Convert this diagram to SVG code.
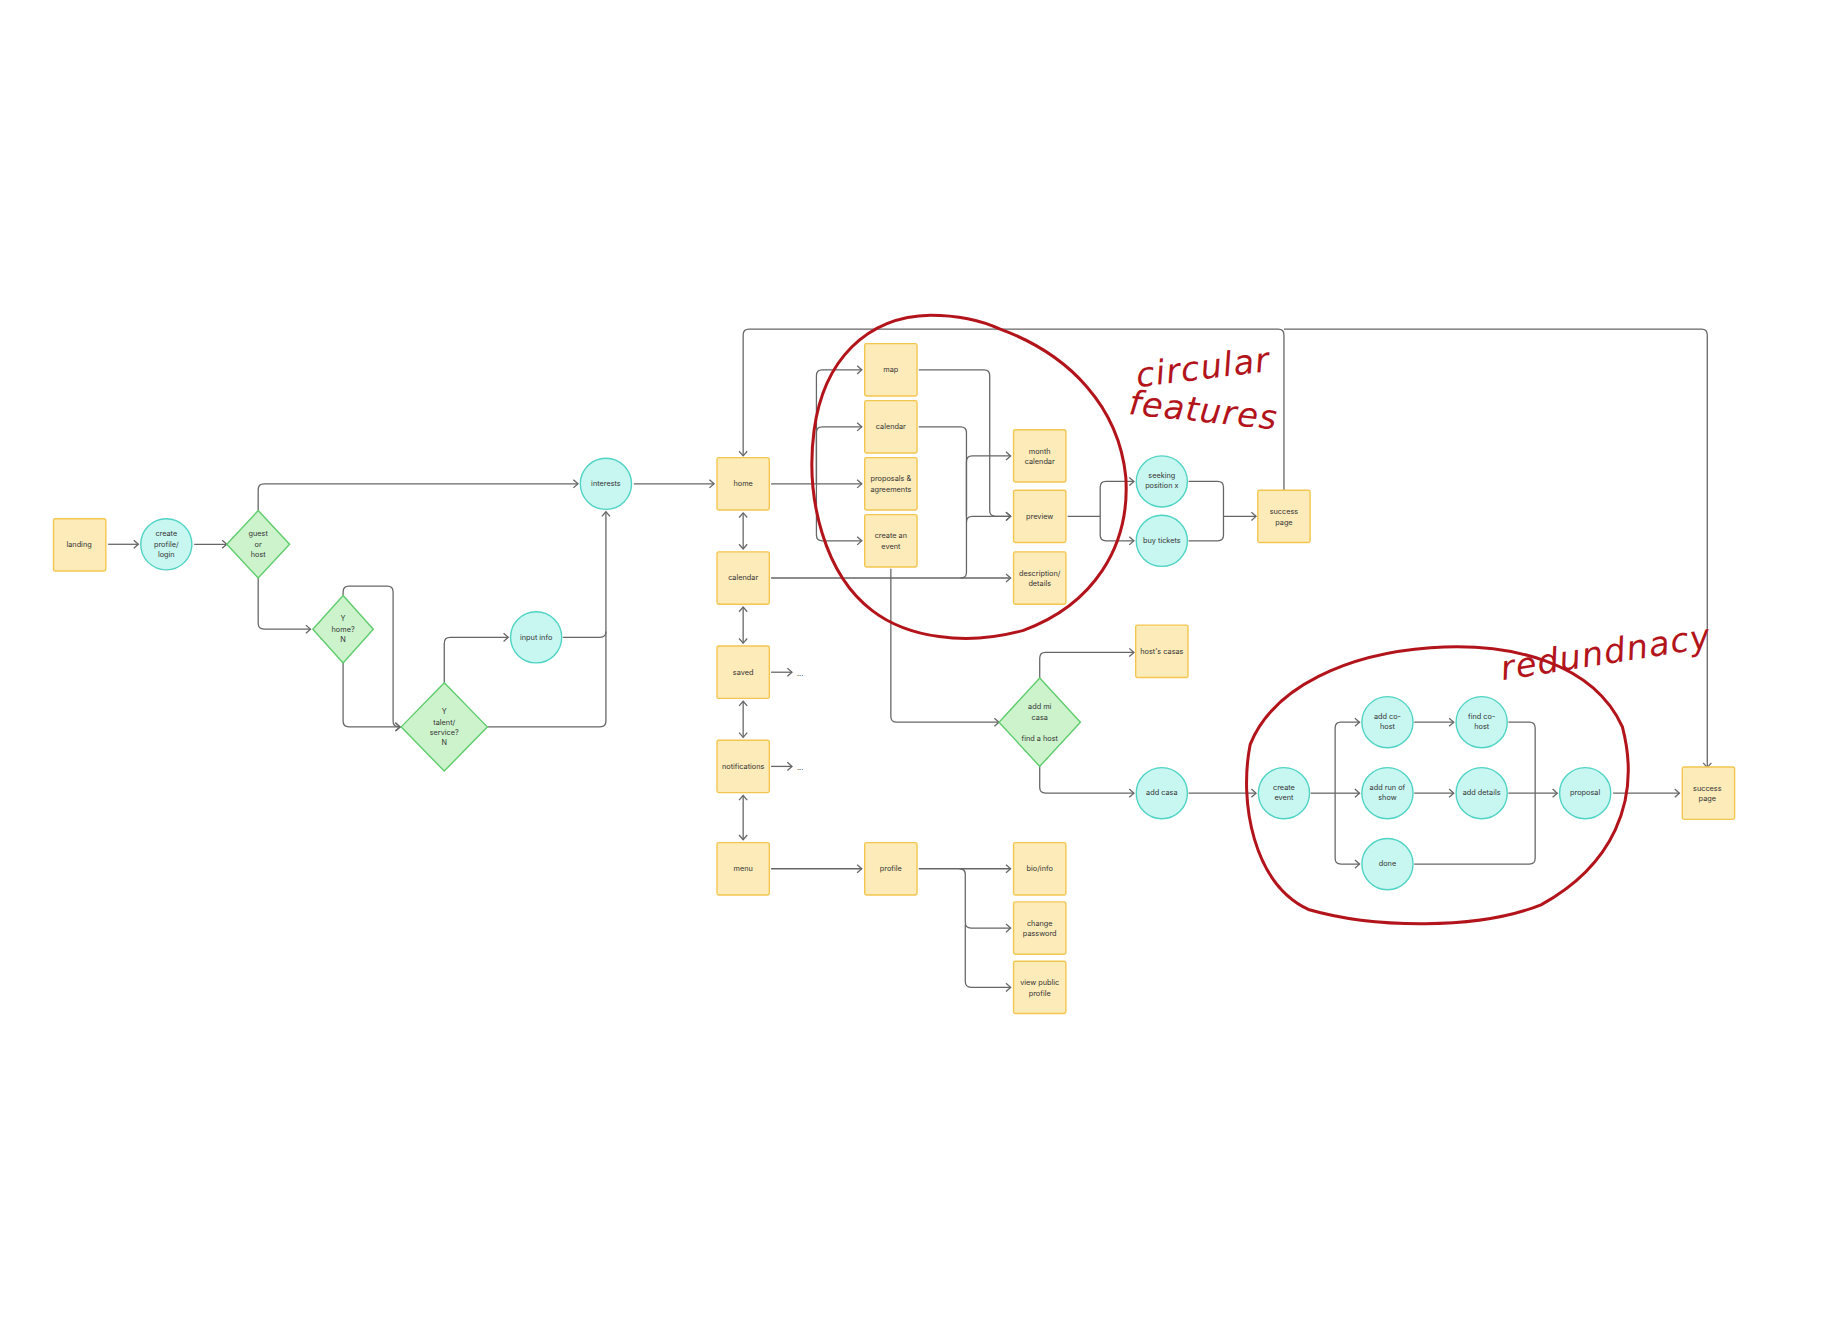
<svg xmlns="http://www.w3.org/2000/svg" width="1824" height="1339" viewBox="0 0 1824 1339">
<style>
.r{fill:#fdebb9;stroke:#f3c650;stroke-width:1.2}
.c{fill:#c8f7f2;stroke:#4fd3c3;stroke-width:1.2}
.d{fill:#cdf3cd;stroke:#5dcc6b;stroke-width:1.2}
text{font-family:"Inter","Liberation Sans",sans-serif;font-size:6.3px;fill:#333;text-anchor:middle}
.e path{fill:none;stroke:#666;stroke-width:1.1;stroke-linejoin:round}
.a{marker-end:url(#ah)}
.b{marker-end:url(#ah);marker-start:url(#as)}
.red{fill:none;stroke:#b3141b;stroke-width:2.6;stroke-linecap:round}
text.hw{font-family:"DejaVu Sans",sans-serif;font-style:italic;font-size:29px;fill:#b3141b;text-anchor:start;letter-spacing:1px}
</style>
<defs>
<marker id="ah" markerWidth="10" markerHeight="10" refX="7" refY="5" orient="auto" markerUnits="userSpaceOnUse"><path d="M3,1.5 L7,5 L3,8.5" fill="none" stroke="#666" stroke-width="1.1"/></marker>
<marker id="as" markerWidth="10" markerHeight="10" refX="3" refY="5" orient="auto" markerUnits="userSpaceOnUse"><path d="M7,1.5 L3,5 L7,8.5" fill="none" stroke="#666" stroke-width="1.1"/></marker>
</defs>
<rect width="1824" height="1339" fill="#fff"/>
<g transform="scale(1.163)">
<g class="e" id="connectors">
<path class="a" d="M93,468 H119"/>
<path class="a" d="M167,468 H195"/>
<path class="a" d="M222,439 V421 Q222,416 227,416 H497"/>
<path class="a" d="M222,497 V536 Q222,541 227,541 H267"/>
<path class="a" d="M295,512 V509 Q295,504 300,504 H333 Q338,504 338,509 V620 Q338,625 343,625 H344"/>
<path class="a" d="M295,570 V620 Q295,625 300,625 H344"/>
<path class="a" d="M382,587 V553 Q382,548 387,548 H437"/>
<path d="M484,548 H516 Q521,548 521,543"/>
<path class="a" d="M419,625 H516 Q521,625 521,620 V440"/>
<path class="a" d="M545,416 H614"/>
<path class="b" d="M639,441 V472"/>
<path class="b" d="M639,522 V553"/>
<path class="b" d="M639,603 V634"/>
<path class="b" d="M639,684 V722"/>
<path class="a" d="M663,578 H681"/>
<path class="a" d="M663,659 H681"/>
<path d="M663,416 H702"/>
<path class="a" d="M702,416 V323 Q702,318 707,318 H741"/>
<path class="a" d="M702,416 V372 Q702,367 707,367 H741"/>
<path class="a" d="M702,416 H741"/>
<path class="a" d="M702,416 V460 Q702,465 707,465 H741"/>
<path class="a" d="M790,318 H846 Q851,318 851,323 V439 Q851,444 856,444 H869"/>
<path d="M790,367 H826 Q831,367 831,372 V492 Q831,497 826,497"/>
<path class="a" d="M831,444 V397 Q831,392 836,392 H869"/>
<path class="a" d="M831,449 Q831,444 836,444 H869"/>
<path class="a" d="M663,497 H869"/>
<path class="a" d="M766,489 V616 Q766,621 771,621 H859"/>
<path class="a" d="M1104,422 V288 Q1104,283 1099,283 H644 Q639,283 639,288 V392"/>
<path class="a" d="M1104,283 H1463 Q1468,283 1468,288 V660"/>
<path d="M918,444 H946"/>
<path class="a" d="M946,444 V419 Q946,414 951,414 H975"/>
<path class="a" d="M946,444 V460 Q946,465 951,465 H975"/>
<path d="M1022,414 H1047 Q1052,414 1052,419 V460 Q1052,465 1047,465 H1022"/>
<path class="a" d="M1052,444 H1080"/>
<path class="a" d="M894,583 V566 Q894,561 899,561 H975"/>
<path class="a" d="M894,659 V677 Q894,682 899,682 H975"/>
<path class="a" d="M1022,682 H1080"/>
<path d="M1127,682 H1148"/>
<path class="a" d="M1148,682 V626 Q1148,621 1153,621 H1169"/>
<path class="a" d="M1148,682 H1169"/>
<path class="a" d="M1148,682 V738 Q1148,743 1153,743 H1169"/>
<path class="a" d="M1216,621 H1250"/>
<path class="a" d="M1216,682 H1250"/>
<path d="M1297,621 H1315 Q1320,621 1320,626 V738 Q1320,743 1315,743 H1216"/>
<path class="a" d="M1297,682 H1339"/>
<path class="a" d="M1387,682 H1444"/>
<path class="a" d="M663,747 H741"/>
<path class="a" d="M790,747 H869"/>
<path class="a" d="M825,747 Q830,747 830,752 V793 Q830,798 835,798 H869"/>
<path class="a" d="M830,795 V844 Q830,849 835,849 H869"/>
</g>
<text x="688" y="581">...</text>
<text x="688" y="662">...</text>
<g id="landing"><rect class="r" x="46" y="446" width="45" height="45" rx="1.5"/><text x="68" y="470">landing</text></g>
<g id="create-profile"><circle class="c" cx="143" cy="468" r="22"/><text x="143" y="461">create</text><text x="143" y="470">profile/</text><text x="143" y="479">login</text></g>
<g id="guest-host"><polygon class="d" points="222,439 249,468 222,497 195,468"/><text x="222" y="461">guest</text><text x="222" y="470">or</text><text x="222" y="479">host</text></g>
<g id="interests"><circle class="c" cx="521" cy="416" r="22"/><text x="521" y="418">interests</text></g>
<g id="home-q"><polygon class="d" points="295,512 321,541 295,570 269,541"/><text x="295" y="534">Y</text><text x="295" y="543">home?</text><text x="295" y="552">N</text></g>
<g id="input-info"><circle class="c" cx="461" cy="548" r="22"/><text x="461" y="550">input info</text></g>
<g id="talent"><polygon class="d" points="382,587 419,625 382,663 345,625"/><text x="382" y="614">Y</text><text x="382" y="623">talent/</text><text x="382" y="632">service?</text><text x="382" y="641">N</text></g>
<g id="home"><rect class="r" x="616.5" y="393.5" width="45" height="45" rx="1.5"/><text x="639" y="418">home</text></g>
<g id="calendar-main"><rect class="r" x="616.5" y="474.5" width="45" height="45" rx="1.5"/><text x="639" y="499">calendar</text></g>
<g id="saved"><rect class="r" x="616.5" y="555.5" width="45" height="45" rx="1.5"/><text x="639" y="580">saved</text></g>
<g id="notifications"><rect class="r" x="616.5" y="636.5" width="45" height="45" rx="1.5"/><text x="639" y="661">notifications</text></g>
<g id="menu"><rect class="r" x="616.5" y="724.5" width="45" height="45" rx="1.5"/><text x="639" y="749">menu</text></g>
<g id="map"><rect class="r" x="743.5" y="295.5" width="45" height="45" rx="1.5"/><text x="766" y="320">map</text></g>
<g id="calendar"><rect class="r" x="743.5" y="344.5" width="45" height="45" rx="1.5"/><text x="766" y="369">calendar</text></g>
<g id="proposals"><rect class="r" x="743.5" y="393.5" width="45" height="45" rx="1.5"/><text x="766" y="414">proposals &amp;</text><text x="766" y="423">agreements</text></g>
<g id="create-event-box"><rect class="r" x="743.5" y="442.5" width="45" height="45" rx="1.5"/><text x="766" y="463">create an</text><text x="766" y="472">event</text></g>
<g id="month-calendar"><rect class="r" x="871.5" y="369.5" width="45" height="45" rx="1.5"/><text x="894" y="390">month</text><text x="894" y="399">calendar</text></g>
<g id="preview"><rect class="r" x="871.5" y="421.5" width="45" height="45" rx="1.5"/><text x="894" y="446">preview</text></g>
<g id="description"><rect class="r" x="871.5" y="474.5" width="45" height="45" rx="1.5"/><text x="894" y="495">description/</text><text x="894" y="504">details</text></g>
<g id="seeking"><circle class="c" cx="999" cy="414" r="22"/><text x="999" y="411">seeking</text><text x="999" y="420">position x</text></g>
<g id="buy-tickets"><circle class="c" cx="999" cy="465" r="22"/><text x="999" y="467">buy tickets</text></g>
<g id="success-1"><rect class="r" x="1081.5" y="421.5" width="45" height="45" rx="1.5"/><text x="1104" y="442">success</text><text x="1104" y="451">page</text></g>
<g id="hosts-casas"><rect class="r" x="976.5" y="537.5" width="45" height="45" rx="1.5"/><text x="999" y="562">host's casas</text></g>
<g id="add-mi-casa"><polygon class="d" points="894,583 929,621 894,659 859,621"/><text x="894" y="610">add mi</text><text x="894" y="619">casa</text><text x="894" y="637">find a host</text></g>
<g id="add-casa"><circle class="c" cx="999" cy="682" r="22"/><text x="999" y="684">add casa</text></g>
<g id="create-event"><circle class="c" cx="1104" cy="682" r="22"/><text x="1104" y="679">create</text><text x="1104" y="688">event</text></g>
<g id="add-cohost"><circle class="c" cx="1193" cy="621" r="22"/><text x="1193" y="618">add co-</text><text x="1193" y="627">host</text></g>
<g id="find-cohost"><circle class="c" cx="1274" cy="621" r="22"/><text x="1274" y="618">find co-</text><text x="1274" y="627">host</text></g>
<g id="add-run"><circle class="c" cx="1193" cy="682" r="22"/><text x="1193" y="679">add run of</text><text x="1193" y="688">show</text></g>
<g id="add-details"><circle class="c" cx="1274" cy="682" r="22"/><text x="1274" y="684">add details</text></g>
<g id="done"><circle class="c" cx="1193" cy="743" r="22"/><text x="1193" y="745">done</text></g>
<g id="proposal"><circle class="c" cx="1363" cy="682" r="22"/><text x="1363" y="684">proposal</text></g>
<g id="success-2"><rect class="r" x="1446.5" y="659.5" width="45" height="45" rx="1.5"/><text x="1468" y="680">success</text><text x="1468" y="689">page</text></g>
<g id="profile"><rect class="r" x="743.5" y="724.5" width="45" height="45" rx="1.5"/><text x="766" y="749">profile</text></g>
<g id="bio"><rect class="r" x="871.5" y="724.5" width="45" height="45" rx="1.5"/><text x="894" y="749">bio/info</text></g>
<g id="change-password"><rect class="r" x="871.5" y="775.5" width="45" height="45" rx="1.5"/><text x="894" y="796">change</text><text x="894" y="805">password</text></g>
<g id="view-public"><rect class="r" x="871.5" y="826.5" width="45" height="45" rx="1.5"/><text x="894" y="847">view public</text><text x="894" y="856">profile</text></g>
<g id="annotations">
<path class="red" d="M860,283 C920,305 962,350 968,410 C972,470 940,520 880,542 C830,556 780,548 750,525 C710,495 692,430 700,370 C708,310 745,272 800,271 C825,271 845,276 860,283"/>
<path class="red" d="M1230,557 C1300,552 1370,570 1395,625 C1412,690 1385,745 1325,778 C1270,800 1180,798 1125,782 C1078,760 1065,690 1075,640 C1095,590 1160,562 1230,557"/>
<text class="hw" x="978" y="333" transform="rotate(-7 978 333)">circular</text>
<text class="hw" x="970" y="356" transform="rotate(6 970 356)">features</text>
<text class="hw" x="1292" y="585" transform="rotate(-9 1292 585)">redundnacy</text>
</g>
</g>
</svg>
